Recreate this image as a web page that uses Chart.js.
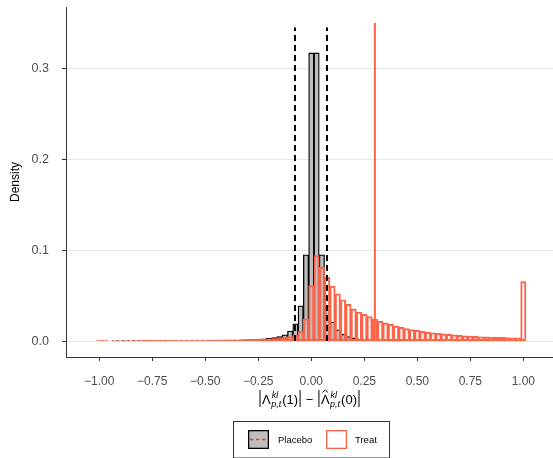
<!DOCTYPE html>
<html>
<head>
<meta charset="utf-8">
<script src="https://cdn.jsdelivr.net/npm/chart.js@4.4.1/dist/chart.umd.min.js"></script>
<style>
  html, body { margin: 0; padding: 0; background: #fff; }
</style>
</head>
<body>
<canvas id="histChart" width="553" height="458"></canvas>
<script>
// histogram bins (centres, width 0.025)
const binCenters = [
  -1.000, -0.975, -0.950, -0.925, -0.900, -0.875, -0.850, -0.825, -0.800, -0.775,
  -0.750, -0.725, -0.700, -0.675, -0.650, -0.625, -0.600, -0.575, -0.550, -0.525,
  -0.500, -0.475, -0.450, -0.425, -0.400, -0.375, -0.350, -0.325, -0.300, -0.275,
  -0.250, -0.225, -0.200, -0.175, -0.150, -0.125, -0.100, -0.075, -0.050, -0.025,
   0.000,  0.025,  0.050,  0.075,  0.100,  0.125,  0.150,  0.175,  0.200,  0.225,
   0.250,  0.275,  0.300,  0.325,  0.350,  0.375,  0.400,  0.425,  0.450,  0.475,
   0.500,  0.525,  0.550,  0.575,  0.600,  0.625,  0.650,  0.675,  0.700,  0.725,
   0.750,  0.775,  0.800,  0.825,  0.850,  0.875,  0.900,  0.925,  0.950,  0.975,
   1.000
];

const placeboDensity = [
  0, 0, 0, 0.0003, 0.0003, 0.0002, 0.0003, 0.0002, 0.0003, 0.0002,
  0.0003, 0.0003, 0.0003, 0.0003, 0.0004, 0.0004, 0.0004, 0.0005, 0.0005, 0.0006,
  0.0006, 0.0007, 0.0008, 0.0009, 0.0010, 0.0011, 0.0012, 0.0014, 0.0016, 0.0018,
  0.0021, 0.0025, 0.0030, 0.0038, 0.0050, 0.0070, 0.0110, 0.0190, 0.0388, 0.0950,
  0.3170, 0.3170, 0.0950, 0.0390, 0.0210, 0.0125, 0.0075, 0.0050, 0.0035, 0.0025,
  0.0018, 0.0013, 0.0009, 0.0006, 0.0004, 0.0002, 0.0001, 0.0001, 0, 0,
  0, 0, 0, 0, 0, 0, 0, 0, 0, 0,
  0, 0, 0, 0, 0, 0, 0, 0, 0, 0,
  0
];

const treatDensity = [
  0.0010, 0.0010, 0, 0.0006, 0.0006, 0.0006, 0.0006, 0.0006, 0.0007, 0.0007,
  0.0007, 0.0007, 0.0008, 0.0008, 0.0008, 0.0009, 0.0009, 0.0009, 0.0010, 0.0010,
  0.0011, 0.0011, 0.0012, 0.0013, 0.0013, 0.0014, 0.0015, 0.0016, 0.0017, 0.0018,
  0.0020, 0.0022, 0.0025, 0.0028, 0.0033, 0.0040, 0.0050, 0.0065, 0.0110, 0.0245,
  0.0610, 0.0940, 0.0810, 0.0700, 0.0605, 0.0520, 0.0455, 0.0405, 0.0355, 0.0320,
  0.0295, 0.0270, 0.0240, 0.0216, 0.0200, 0.0183, 0.0165, 0.0150, 0.0138, 0.0127,
  0.0117, 0.0108, 0.0100, 0.0092, 0.0085, 0.0079, 0.0073, 0.0068, 0.0063, 0.0058,
  0.0054, 0.0051, 0.0048, 0.0046, 0.0044, 0.0042, 0.0040, 0.0038, 0.0036, 0.0035,
  0.0655
];

// reference lines
const placeboCutoffs = [-0.077, 0.074];
const cutoffTop = 0.345;
const treatThreshold = 0.3;
const thresholdTop = 0.35;

const xTicks = [-1, -0.75, -0.5, -0.25, 0, 0.25, 0.5, 0.75, 1];
const yTicks = [0, 0.1, 0.2, 0.3];
const seriesNames = ['Placebo', 'Treat'];

const FONT = '"Liberation Sans", Arial, Helvetica, sans-serif';
const INK = '#333333';
const TOMATO = '#FF6347';
const GREY = '#bebebe';

const fmt = (v, d) => (v < 0 ? '\u2212' : '') + Math.abs(v).toFixed(d);

const toPoints = ys => binCenters.map((x, i) => ({ x: x, y: ys[i] }));
const vline = (x, top) => [{ x: x, y: 0 }, { x: x, y: top }];

// x axis title: |Λ^{kl}_{p,t}(1)| − |Λ̂^{kl}_{p,t}(0)|
const mathTitle = {
  id: 'mathTitle',
  afterDraw(chart) {
    const ctx = chart.ctx;
    const area = chart.chartArea;
    const base = 404;
    const main = '13px ' + FONT;
    const small = 'italic 9px ' + FONT;
    const pieces = [];
    const term = (arg, hat) => {
      pieces.push({ kind: 'bar' });
      pieces.push({ kind: 'text', text: '\u039B', hat: hat });
      pieces.push({ kind: 'script', sup: 'kl', sub: 'p,t' });
      pieces.push({ kind: 'text', text: '(' + arg + ')' });
      pieces.push({ kind: 'bar' });
    };
    term('1', false);
    pieces.push({ kind: 'text', text: ' \u2212 ' });
    term('0', true);

    pieces.forEach(p => {
      if (p.kind === 'bar') p.w = 4;
      else if (p.kind === 'text') { ctx.font = main; p.w = ctx.measureText(p.text).width; }
      else { ctx.font = small; p.w = Math.max(ctx.measureText(p.sup).width, ctx.measureText(p.sub).width) + 1.5; }
    });
    const total = pieces.reduce((s, p) => s + p.w, 0);
    let x = (area.left + area.right) / 2 - total / 2;

    ctx.save();
    ctx.fillStyle = '#000';
    ctx.strokeStyle = '#000';
    ctx.textBaseline = 'alphabetic';
    ctx.textAlign = 'left';
    pieces.forEach(p => {
      if (p.kind === 'bar') {
        ctx.lineWidth = 1;
        ctx.beginPath();
        ctx.moveTo(x + p.w / 2, base - 14);
        ctx.lineTo(x + p.w / 2, base + 3);
        ctx.stroke();
      } else if (p.kind === 'text') {
        ctx.font = main;
        ctx.fillText(p.text, x, base);
        if (p.hat) {
          ctx.lineWidth = 0.9;
          ctx.beginPath();
          ctx.moveTo(x + 1.5, base - 11.5);
          ctx.lineTo(x + p.w / 2, base - 14);
          ctx.lineTo(x + p.w - 1.5, base - 11.5);
          ctx.stroke();
        }
      } else {
        ctx.font = small;
        ctx.fillText(p.sup, x + 1, base - 6.5);
        ctx.fillText(p.sub, x + 0.5, base + 2.5);
      }
      x += p.w;
    });
    ctx.restore();
  }
};

// ggplot-style legend box underneath
const boxLegend = {
  id: 'boxLegend',
  afterDraw(chart) {
    const ctx = chart.ctx;
    const area = chart.chartArea;
    const cx = (area.left + area.right) / 2 + 1.5;
    const left = cx - 78, top = 421, w = 156, h = 36.5;
    ctx.save();
    ctx.strokeStyle = INK;
    ctx.lineWidth = 1;
    ctx.strokeRect(left + 0.5, top + 0.5, w, h);

    // Placebo key
    const k1 = left + 15;
    ctx.fillStyle = GREY;
    ctx.fillRect(k1, 430, 21, 19);
    ctx.strokeStyle = '#000';
    ctx.lineWidth = 1.3;
    ctx.strokeRect(k1 + 0.65, 430.65, 19.7, 17.7);
    ctx.strokeStyle = '#d9472b';
    ctx.lineWidth = 1.6;
    ctx.setLineDash([3.5, 2.5]);
    ctx.beginPath();
    ctx.moveTo(k1 + 2, 439.5);
    ctx.lineTo(k1 + 19.5, 439.5);
    ctx.stroke();
    ctx.setLineDash([]);

    // Treat key
    const k2 = left + 93;
    ctx.fillStyle = '#fff';
    ctx.fillRect(k2, 430, 21, 19);
    ctx.strokeStyle = TOMATO;
    ctx.lineWidth = 1.3;
    ctx.strokeRect(k2 + 0.65, 430.65, 19.7, 17.7);

    ctx.fillStyle = '#000';
    ctx.font = '9.5px ' + FONT;
    ctx.textBaseline = 'middle';
    ctx.textAlign = 'left';
    ctx.fillText(chart.data.datasets[0].label, k1 + 30, 440);
    ctx.fillText(chart.data.datasets[1].label, k2 + 29, 440);
    ctx.restore();
  }
};

const barStyle = {
  grouped: false,
  barPercentage: 1,
  categoryPercentage: 1,
  borderSkipped: false,
  borderWidth: 1.3
};

new Chart(document.getElementById('histChart'), {
  type: 'bar',
  data: {
    datasets: [
      Object.assign({
        label: seriesNames[0],
        data: toPoints(placeboDensity),
        backgroundColor: GREY,
        borderColor: '#000',
        order: 4
      }, barStyle),
      Object.assign({
        label: seriesNames[1],
        data: toPoints(treatDensity),
        backgroundColor: 'rgba(255,255,255,0)',
        borderColor: TOMATO,
        order: 3
      }, barStyle),
      {
        type: 'line',
        label: 'cutoff low',
        data: vline(placeboCutoffs[0], cutoffTop),
        borderColor: '#000',
        borderWidth: 2,
        borderDash: [6, 4],
        pointRadius: 0,
        order: 1
      },
      {
        type: 'line',
        label: 'cutoff high',
        data: vline(placeboCutoffs[1], cutoffTop),
        borderColor: '#000',
        borderWidth: 2,
        borderDash: [6, 4],
        pointRadius: 0,
        order: 1
      },
      {
        type: 'line',
        label: 'threshold',
        data: vline(treatThreshold, thresholdTop),
        borderColor: TOMATO,
        borderWidth: 2,
        pointRadius: 0,
        order: 2
      }
    ]
  },
  options: {
    responsive: false,
    animation: false,
    layout: { padding: { top: 7, right: 0, bottom: 0, left: 0 } },
    plugins: {
      legend: { display: false },
      tooltip: { enabled: false }
    },
    scales: {
      x: {
        type: 'linear',
        offset: false,
        min: -1.157,
        max: 1.14,
        afterBuildTicks: s => { s.ticks = xTicks.map(v => ({ value: v })); },
        afterFit: s => { s.height = 101; s.paddingLeft = 0; s.paddingRight = 0; },
        grid: { offset: false, drawOnChartArea: false, drawTicks: true, tickLength: 4, tickColor: INK, tickWidth: 1 },
        border: { display: true, color: INK, width: 1 },
        ticks: {
          color: '#4d4d4d',
          font: { family: FONT, size: 12 },
          padding: 13,
          maxRotation: 0,
          autoSkip: false,
          callback: v => fmt(v, 2)
        }
      },
      y: {
        min: -0.0175,
        max: 0.3675,
        afterBuildTicks: s => { s.ticks = yTicks.map(v => ({ value: v })); },
        afterFit: s => { s.width = 66; s.paddingTop = 0; s.paddingBottom = 0; },
        grid: { color: '#e6e6e6', lineWidth: 1, tickColor: INK, tickLength: 4 },
        border: { display: true, color: INK, width: 1 },
        ticks: {
          color: '#4d4d4d',
          font: { family: FONT, size: 12.5 },
          padding: 13,
          callback: v => fmt(v, 1)
        },
        title: {
          display: true,
          text: 'Density',
          color: '#000',
          font: { family: FONT, size: 12 },
          padding: { top: 8, bottom: 0 }
        }
      }
    }
  },
  plugins: [mathTitle, boxLegend]
});
</script>
</body>
</html>
